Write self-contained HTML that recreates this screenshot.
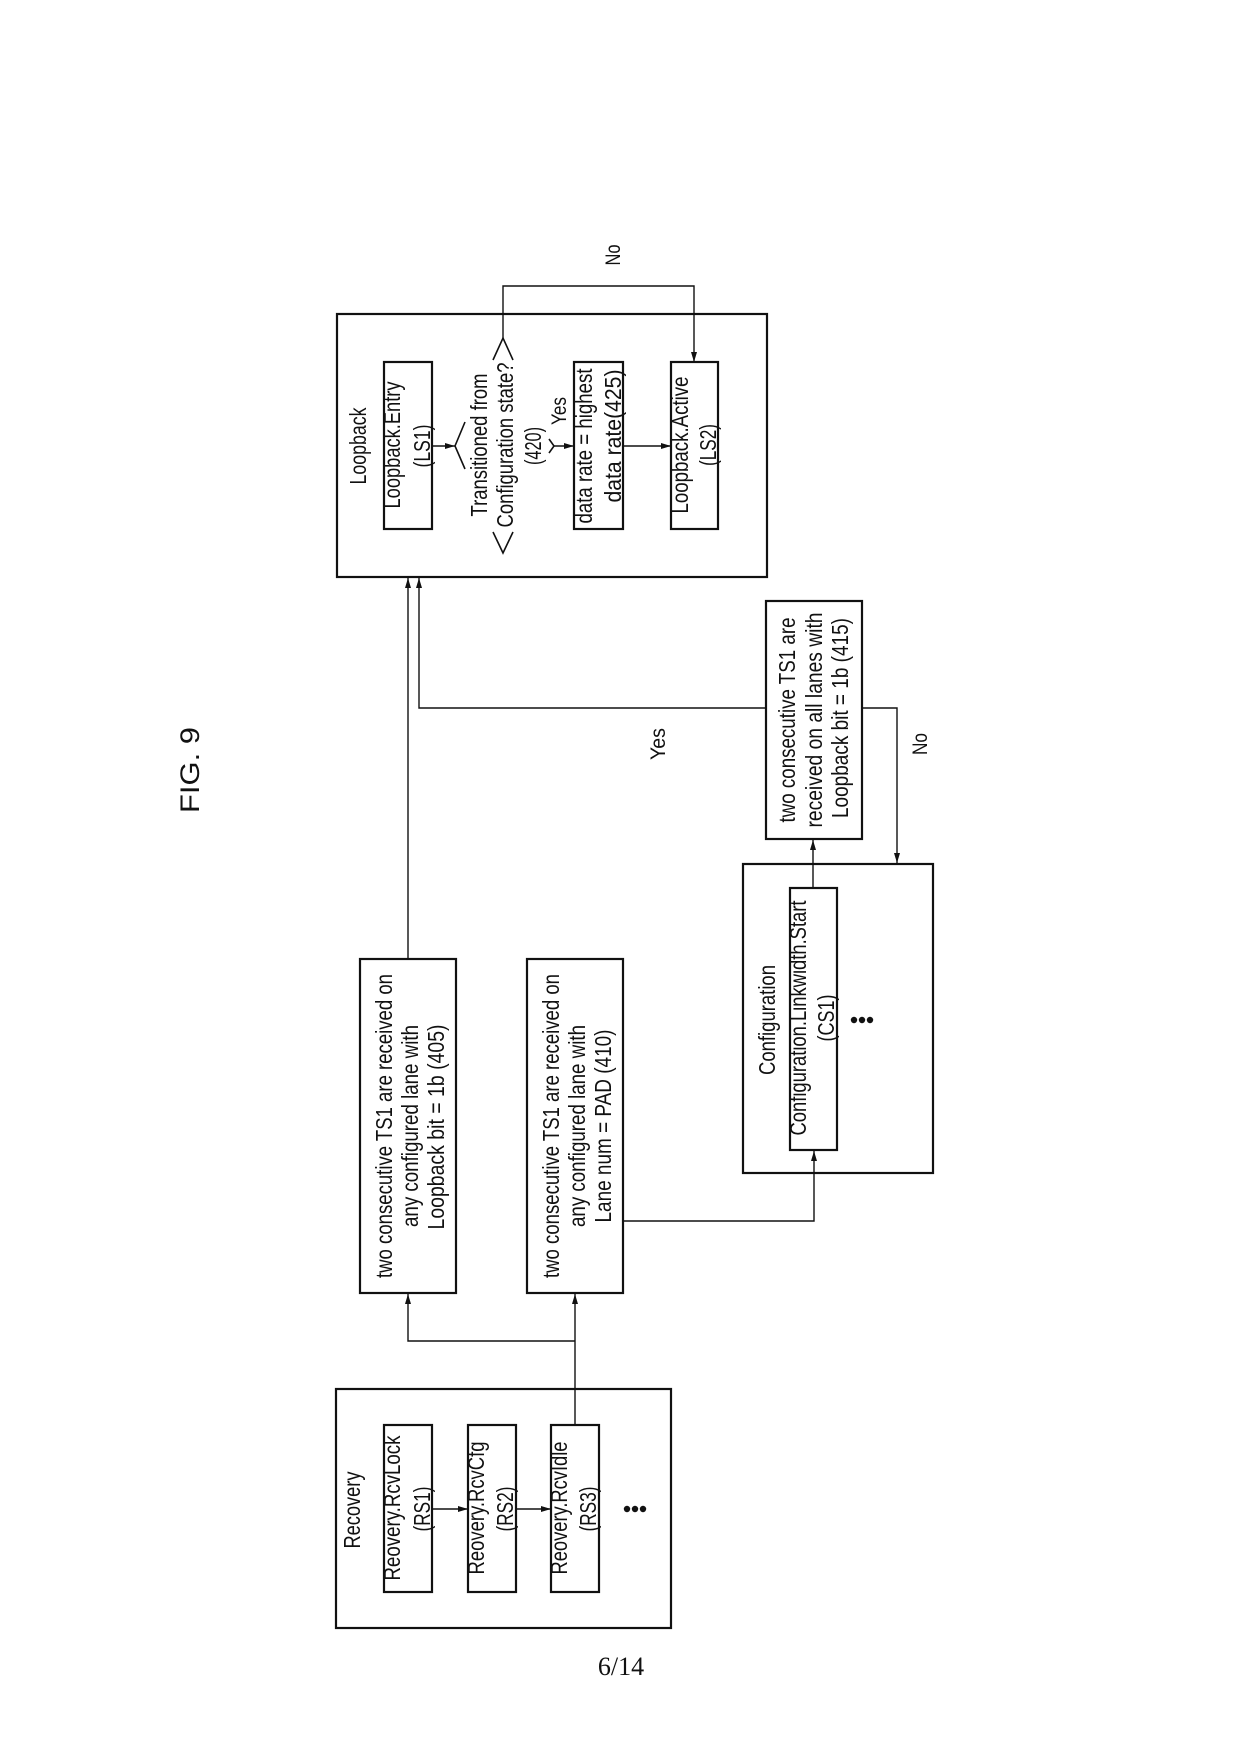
<!DOCTYPE html>
<html>
<head>
<meta charset="utf-8">
<style>
  html,body{margin:0;padding:0;background:#fff;}
  svg{display:block;}
  text{font-family:"Liberation Sans",Arial,sans-serif;fill:#111;}
  .t{font-size:23px;}
  .s{font-size:21px;}
</style>
</head>
<body>
<svg width="1239" height="1754" viewBox="0 0 1239 1754" xmlns="http://www.w3.org/2000/svg">
  <defs>
    <marker id="ar" viewBox="0 0 10 6" refX="10" refY="3" markerWidth="10" markerHeight="6" markerUnits="userSpaceOnUse" orient="auto">
      <path d="M0,0 L10,3 L0,6 Z" fill="#111"/>
    </marker>
  </defs>

  <!-- FIG label -->
  <text transform="translate(199,770) rotate(-90)" text-anchor="middle" style="font-size:27px" textLength="86" lengthAdjust="spacingAndGlyphs">FIG. 9</text>

  <!-- page number -->
  <text x="621" y="1675" text-anchor="middle" style="font-family:'Liberation Serif',serif;font-size:26px">6/14</text>

  <g fill="none" stroke="#111" stroke-width="2.2">
    <!-- Loopback -->
    <rect x="337" y="314" width="430" height="263"/>
    <rect x="384" y="362" width="48" height="167"/>
    <rect x="574" y="362" width="49" height="167"/>
    <rect x="671" y="362" width="47" height="167"/>
    <!-- Recovery -->
    <rect x="336" y="1389" width="335" height="239"/>
    <rect x="384" y="1425" width="48" height="167"/>
    <rect x="468" y="1425" width="48" height="167"/>
    <rect x="551" y="1425" width="48" height="167"/>
    <!-- 405 / 410 -->
    <rect x="360" y="959" width="96" height="334"/>
    <rect x="527" y="959" width="96" height="334"/>
    <!-- Configuration -->
    <rect x="743" y="864" width="190" height="309"/>
    <rect x="790" y="888" width="47" height="262"/>
    <!-- 415 -->
    <rect x="766" y="601" width="96" height="238"/>
  </g>

  <!-- diamond corners -->
  <g fill="none" stroke="#111" stroke-width="1.6">
    <polyline points="465,422 455,446 465,469"/>
    <polyline points="493,360 503,338 513,360"/>
    <polyline points="493,532 503,553 513,532"/>
    <polyline points="549,439 554,446 549,453"/>
  </g>

  <!-- connectors -->
  <g fill="none" stroke="#111" stroke-width="1.4">
    <line x1="432" y1="446" x2="455" y2="446" marker-end="url(#ar)"/>
    <line x1="554" y1="446" x2="574" y2="446" marker-end="url(#ar)"/>
    <line x1="623" y1="446" x2="671" y2="446" marker-end="url(#ar)"/>
    <polyline points="503,338 503,286 694,286 694,362" marker-end="url(#ar)"/>
    <line x1="408" y1="959" x2="408" y2="578" marker-end="url(#ar)"/>
    <polyline points="766,708 419,708 419,578" marker-end="url(#ar)"/>
    <line x1="432" y1="1509" x2="468" y2="1509" marker-end="url(#ar)"/>
    <line x1="516" y1="1509" x2="551" y2="1509" marker-end="url(#ar)"/>
    <line x1="575" y1="1425" x2="575" y2="1294" marker-end="url(#ar)"/>
    <polyline points="575,1341 408,1341 408,1294" marker-end="url(#ar)"/>
    <polyline points="623,1221 814,1221 814,1151" marker-end="url(#ar)"/>
    <line x1="813" y1="888" x2="813" y2="840" marker-end="url(#ar)"/>
    <polyline points="862,708 897,708 897,863" marker-end="url(#ar)"/>
  </g>

  <!-- dots -->
  <g fill="#111">
    <circle cx="627" cy="1509" r="3.2"/><circle cx="635" cy="1509" r="3.2"/><circle cx="643" cy="1509" r="3.2"/>
    <circle cx="854" cy="1020" r="3.2"/><circle cx="862" cy="1020" r="3.2"/><circle cx="870" cy="1020" r="3.2"/>
  </g>

  <!-- Loopback texts -->
  <text class="t" transform="translate(366,446) rotate(-90)" text-anchor="middle" textLength="77" lengthAdjust="spacingAndGlyphs">Loopback</text>
  <text class="t" transform="translate(400,445) rotate(-90)" text-anchor="middle" textLength="127" lengthAdjust="spacingAndGlyphs">Loopback.Entry</text>
  <text class="t" transform="translate(430,446) rotate(-90)" text-anchor="middle" textLength="43" lengthAdjust="spacingAndGlyphs">(LS1)</text>
  <text class="t" transform="translate(487,445) rotate(-90)" text-anchor="middle" textLength="143" lengthAdjust="spacingAndGlyphs">Transitioned from</text>
  <text class="t" transform="translate(513,445) rotate(-90)" text-anchor="middle" textLength="165" lengthAdjust="spacingAndGlyphs">Configuration state?</text>
  <text class="t" transform="translate(541,446) rotate(-90)" text-anchor="middle" textLength="38" lengthAdjust="spacingAndGlyphs">(420)</text>
  <text class="s" transform="translate(566,411) rotate(-90)" text-anchor="middle" textLength="28" lengthAdjust="spacingAndGlyphs">Yes</text>
  <text class="t" transform="translate(592,446) rotate(-90)" text-anchor="middle" textLength="155" lengthAdjust="spacingAndGlyphs">data rate = highest</text>
  <text class="t" transform="translate(621,436) rotate(-90)" text-anchor="middle" textLength="133" lengthAdjust="spacingAndGlyphs">data rate(425)</text>
  <text class="t" transform="translate(688,445) rotate(-90)" text-anchor="middle" textLength="137" lengthAdjust="spacingAndGlyphs">Loopback.Active</text>
  <text class="t" transform="translate(716,445) rotate(-90)" text-anchor="middle" textLength="42" lengthAdjust="spacingAndGlyphs">(LS2)</text>
  <text class="s" transform="translate(620,255) rotate(-90)" text-anchor="middle" textLength="21" lengthAdjust="spacingAndGlyphs">No</text>

  <!-- 405 -->
  <text class="t" transform="translate(392,1126) rotate(-90)" text-anchor="middle" textLength="304" lengthAdjust="spacingAndGlyphs">two consecutive TS1 are received on</text>
  <text class="t" transform="translate(418,1126) rotate(-90)" text-anchor="middle" textLength="202" lengthAdjust="spacingAndGlyphs">any configured lane with</text>
  <text class="t" transform="translate(444,1127) rotate(-90)" text-anchor="middle" textLength="205" lengthAdjust="spacingAndGlyphs">Loopback bit = 1b (405)</text>

  <!-- 410 -->
  <text class="t" transform="translate(559,1126) rotate(-90)" text-anchor="middle" textLength="304" lengthAdjust="spacingAndGlyphs">two consecutive TS1 are received on</text>
  <text class="t" transform="translate(585,1126) rotate(-90)" text-anchor="middle" textLength="202" lengthAdjust="spacingAndGlyphs">any configured lane with</text>
  <text class="t" transform="translate(611,1126) rotate(-90)" text-anchor="middle" textLength="193" lengthAdjust="spacingAndGlyphs">Lane num = PAD (410)</text>

  <!-- Recovery -->
  <text class="t" transform="translate(360,1510) rotate(-90)" text-anchor="middle" textLength="77" lengthAdjust="spacingAndGlyphs">Recovery</text>
  <text class="t" transform="translate(400,1508) rotate(-90)" text-anchor="middle" textLength="145" lengthAdjust="spacingAndGlyphs">Reovery.RcvLock</text>
  <text class="t" transform="translate(430,1509) rotate(-90)" text-anchor="middle" textLength="45" lengthAdjust="spacingAndGlyphs">(RS1)</text>
  <text class="t" transform="translate(484,1508) rotate(-90)" text-anchor="middle" textLength="133" lengthAdjust="spacingAndGlyphs">Reovery.RcvCfg</text>
  <text class="t" transform="translate(513,1509) rotate(-90)" text-anchor="middle" textLength="45" lengthAdjust="spacingAndGlyphs">(RS2)</text>
  <text class="t" transform="translate(567,1508) rotate(-90)" text-anchor="middle" textLength="133" lengthAdjust="spacingAndGlyphs">Reovery.RcvIdle</text>
  <text class="t" transform="translate(596,1509) rotate(-90)" text-anchor="middle" textLength="45" lengthAdjust="spacingAndGlyphs">(RS3)</text>

  <!-- 415 -->
  <text class="t" transform="translate(795,720) rotate(-90)" text-anchor="middle" textLength="205" lengthAdjust="spacingAndGlyphs">two consecutive TS1 are</text>
  <text class="t" transform="translate(822,720) rotate(-90)" text-anchor="middle" textLength="215" lengthAdjust="spacingAndGlyphs">received on all lanes with</text>
  <text class="t" transform="translate(848,718) rotate(-90)" text-anchor="middle" textLength="200" lengthAdjust="spacingAndGlyphs">Loopback bit = 1b (415)</text>
  <text class="s" transform="translate(665,744) rotate(-90)" text-anchor="middle" textLength="32" lengthAdjust="spacingAndGlyphs">Yes</text>
  <text class="s" transform="translate(927,744) rotate(-90)" text-anchor="middle" textLength="22" lengthAdjust="spacingAndGlyphs">No</text>

  <!-- Configuration -->
  <text class="t" transform="translate(775,1020) rotate(-90)" text-anchor="middle" textLength="110" lengthAdjust="spacingAndGlyphs">Configuration</text>
  <text class="t" transform="translate(806,1018) rotate(-90)" text-anchor="middle" textLength="235" lengthAdjust="spacingAndGlyphs">Configuration.Linkwidth.Start</text>
  <text class="t" transform="translate(834,1018) rotate(-90)" text-anchor="middle" textLength="47" lengthAdjust="spacingAndGlyphs">(CS1)</text>
</svg>
</body>
</html>
